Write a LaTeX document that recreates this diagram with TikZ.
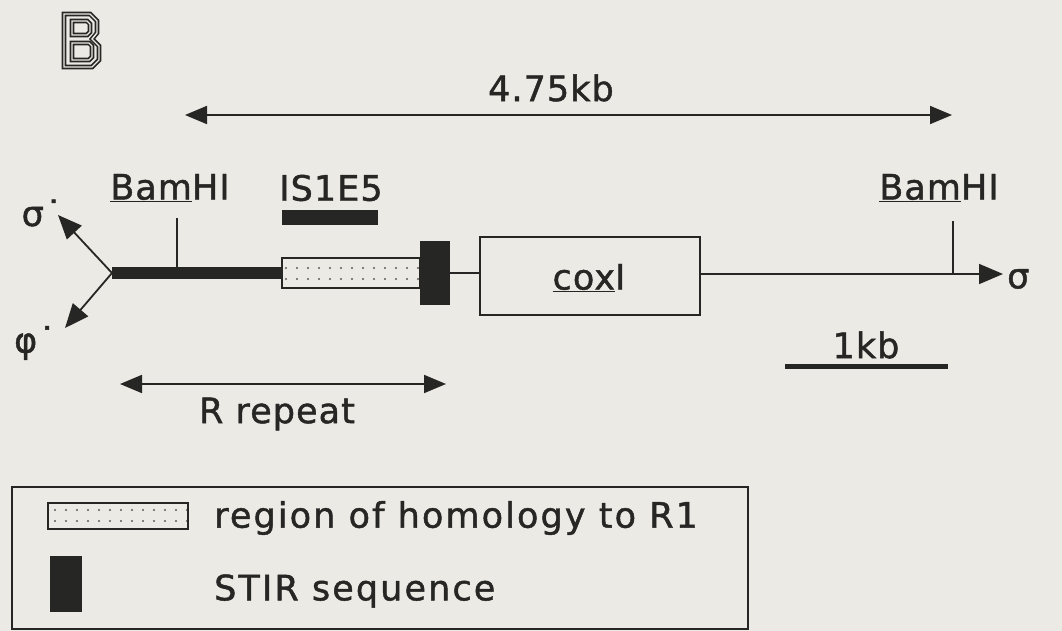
\documentclass[tikz,border=0pt]{standalone}
\usepackage{fontspec}
\setmainfont{DejaVu Sans}[LetterSpace=3, FakeBold=1.3]
\usetikzlibrary{positioning}
\usetikzlibrary{arrows.meta}
\usetikzlibrary{patterns.meta}
\definecolor{paper}{RGB}{236,234,228}
\definecolor{ink}{RGB}{38,38,36}
\tikzset{
  lab/.style={font=\fontsize{35}{37}\selectfont, text=ink, inner sep=0pt},
  dbl/.style={{Triangle[length=22pt,width=18pt]}-{Triangle[length=22pt,width=18pt]}, line width=1.8pt, draw=ink},
  arr/.style={-{Triangle[length=24pt,width=20pt]}, line width=1.8pt, draw=ink},
  stipbox/.style={draw=ink, line width=1.6pt, pattern={Dots[distance=11pt,radius=1.1pt]}, pattern color=ink!75, inner sep=0pt, outer sep=0pt},
  stirbox/.style={fill=ink, inner sep=0pt, outer sep=0pt},
  genebox/.style={draw=ink, line width=1.8pt, inner sep=0pt, outer sep=0pt},
  outline/.style={draw=ink, line width=1.6pt, double=paper, double distance=1.4pt, line join=miter}
}
\begin{document}
\begin{tikzpicture}[x=1pt, y=-1pt]
    \useasboundingbox (0,0) rectangle (1062,631);
    \fill[paper] (0,0) rectangle (1062,631);

    % Panel letter
    \draw[outline] (64,14) -- (90,14) -- (97,21) -- (97,33) -- (92,39) -- (99,46) -- (99,60) -- (92,67) -- (64,67) -- cycle;
    \draw[outline] (72,21) -- (87,21) -- (90,24) -- (90,32) -- (87,35) -- (72,35) -- cycle;
    \draw[outline] (72,43) -- (89,43) -- (92,46) -- (92,57) -- (89,60) -- (72,60) -- cycle;

    % Total length
    \coordinate (top-l) at (185,115);
    \coordinate (top-r) at (952,115);
    \draw[dbl] (top-l) -- (top-r);
    \node[lab] (toplab) at (551,88) {4.75kb};

    % Map elements
    \coordinate (junc) at (112,273);
    \node[stipbox, minimum width=138pt, minimum height=30pt, anchor=west] (homol) at (282,273) {};
    \node[stirbox, minimum width=30pt, minimum height=64pt, anchor=west] (stir) at (homol.east) {};
    \node[genebox, minimum width=220pt, minimum height=78pt] (cox) at (590,276) {};
    \node[lab] (coxlab) at (589,278) {\underline{cox}I};
    \coordinate (end) at (1003,274);
    \draw[ink, line width=12pt] (junc) -- (junc -| homol.west);
    \draw[ink, line width=1.8pt] (stir.east) -- (cox.west |- stir.east);
    \draw[arr] (cox.east |- end) -- (end);
    \node[lab, anchor=west] (sig) at (1007,279) {σ};

    % Branches
    \coordinate (sigp) at (58,215);
    \coordinate (phip) at (65,328);
    \draw[arr] (junc) -- (sigp);
    \draw[arr] (junc) -- (phip);
    \node[lab] (siglab) at (42,213) {σ˙};
    \node[lab] (philab) at (35,343) {φ˙};

    % BamHI sites
    \coordinate (bam1) at (177,273);
    \coordinate (bam2) at (953,274);
    \draw[ink, line width=1.8pt] (bam1) -- ++(0,-55);
    \draw[ink, line width=1.8pt] (bam2) -- ++(0,-53);
    \node[lab] (bam1lab) at (170,188) {\underline{Bam}HI};
    \node[lab] (bam2lab) at (939,188) {\underline{Bam}HI};

    % Probe
    \node[lab] (problab) at (331,188) {IS1E5};
    \fill[ink] (282,210) rectangle (378,225);

    % R repeat
    \coordinate (rep-l) at (120,384);
    \coordinate (rep-r) at (446,384);
    \draw[dbl] (rep-l) -- (rep-r);
    \node[lab] (replab) at (277,414) {R repeat};

    % Scale bar
    \draw[ink, line width=5pt] (785,366) -- (948,366);
    \node[lab] (scalelab) at (866,345) {1kb};

    % Legend
    \draw[ink, line width=1.6pt] (12,487) rectangle (748,629);
    \node[stipbox, minimum width=140pt, minimum height=26pt, anchor=west] (leg1) at (48,516) {};
    \node[stirbox, minimum width=32pt, minimum height=56pt] (leg2) at (66,584) {};
    \node[lab, anchor=west] (leg1lab) at (214,518) {\addfontfeature{LetterSpace=6}region of homology to R1};
    \node[lab, anchor=west] (leg2lab) at (214,591) {\addfontfeature{LetterSpace=6}STIR sequence};
\end{tikzpicture}
\end{document}
